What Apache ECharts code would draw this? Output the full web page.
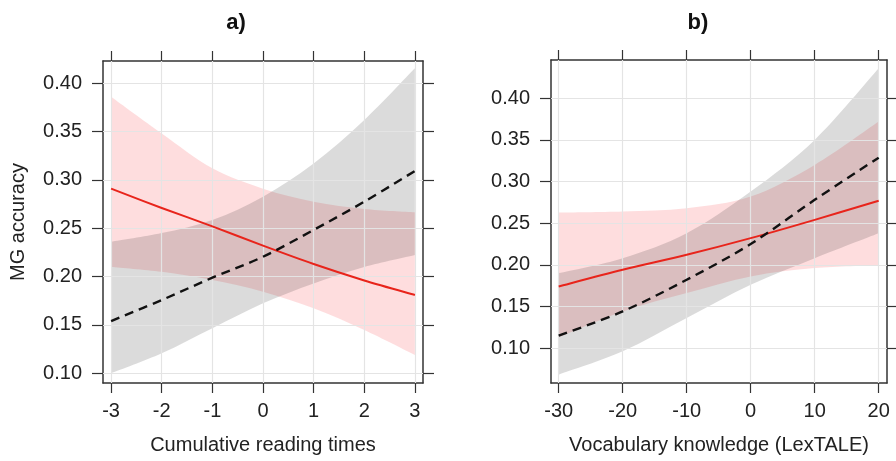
<!DOCTYPE html>
<html><head><meta charset="utf-8">
<script src="https://cdn.jsdelivr.net/npm/echarts@6/dist/echarts.min.js"></script>
<style>html,body{margin:0;padding:0;background:#fff}#c{width:896px;height:461px}</style>
</head><body><div id="c"></div>
<script>
// Panel a) Cumulative reading times
const xA = [-3, -2, -1, 0, 1, 2, 3];
const redA = [0.291, 0.271, 0.252, 0.232, 0.213, 0.196, 0.181];
const redUpA = [0.386, 0.348, 0.312, 0.291, 0.2775, 0.270, 0.2666];
const redLoA = [0.210, 0.205, 0.1965, 0.1844, 0.1673, 0.1448, 0.119];
const blackA = [0.154, 0.1758, 0.1989, 0.2206, 0.2483, 0.2775, 0.3093];
const blackUpA = [0.236, 0.245, 0.2586, 0.2827, 0.317, 0.362, 0.4155];
const blackLoA = [0.100, 0.1207, 0.1466, 0.1724, 0.193, 0.210, 0.2224];
const xTicksA = [-3, -2, -1, 0, 1, 2, 3];
// Panel b) Vocabulary knowledge (LexTALE)
const xB = [-30, -20, -10, 0, 10, 20];
const redB = [0.174, 0.194, 0.212, 0.232, 0.254, 0.277];
const redUpB = [0.2627, 0.264, 0.268, 0.282, 0.320, 0.372];
const redLoB = [0.113, 0.144, 0.166, 0.186, 0.196, 0.199];
const blackB = [0.1148, 0.144, 0.182, 0.225, 0.278, 0.3287];
const blackUpB = [0.190, 0.208, 0.238, 0.288, 0.350, 0.436];
const blackLoB = [0.068, 0.096, 0.136, 0.176, 0.208, 0.238];
const xTicksB = [-30, -20, -10, 0, 10, 20];
const yTicks = [0.10, 0.15, 0.20, 0.25, 0.30, 0.35, 0.40];
const titles = ['a)', 'b)'];
const xNames = ['Cumulative reading times', 'Vocabulary knowledge (LexTALE)'];
const yName = 'MG accuracy';

const FONT = 'Liberation Sans, Arial, sans-serif';
const FS = 20;

const PINK = 'rgba(250,100,105,0.22)';
const GREY = 'rgba(30,30,30,0.16)';
const AXC = '#333';

function xAxes(gi, min, max, ticks, name) {
  const base = {
    type: 'value', gridIndex: gi, min: min, max: max,
    axisLine: { show: true, onZero: false, lineStyle: { color: AXC, width: 1.5 } },
    axisTick: { show: true, inside: false, length: 10, customValues: ticks, lineStyle: { color: AXC, width: 1.2 } },
    splitLine: { show: false }
  };
  return [
    Object.assign({}, base, {
      position: 'bottom',
      axisLabel: { show: true, customValues: ticks, margin: 18, fontSize: FS, color: '#222', fontFamily: FONT },
      name: name, nameLocation: 'middle', nameGap: 52,
      nameTextStyle: { fontSize: FS, color: '#222', fontFamily: FONT }
    }),
    Object.assign({}, base, { position: 'top', axisLabel: { show: false } })
  ];
}
function yAxes(gi, min, max, showName) {
  const base = {
    type: 'value', gridIndex: gi, min: min, max: max,
    axisLine: { show: true, onZero: false, lineStyle: { color: AXC, width: 1.5 } },
    axisTick: { show: true, inside: false, length: 11, customValues: yTicks, lineStyle: { color: AXC, width: 1.2 } },
    splitLine: { show: false }
  };
  const left = Object.assign({}, base, {
    position: 'left',
    axisLabel: { show: true, customValues: yTicks, margin: 21, fontSize: FS, color: '#222', fontFamily: FONT,
      formatter: v => v.toFixed(2) }
  });
  if (showName) {
    left.name = yName; left.nameLocation = 'middle'; left.nameGap = 75;
    left.nameTextStyle = { fontSize: FS, color: '#222', fontFamily: FONT };
  }
  return [left, Object.assign({}, base, { position: 'right', axisLabel: { show: false } })];
}

function gridLines(xi, yi, xt, yt, xmin, xmax, ymin, ymax) {
  const data = [];
  xt.forEach(v => data.push([{ coord: [v, ymin] }, { coord: [v, ymax] }]));
  yt.forEach(v => data.push([{ coord: [xmin, v] }, { coord: [xmax, v] }]));
  return {
    type: 'line', xAxisIndex: xi, yAxisIndex: yi, data: [], silent: true, z: 1,
    markLine: { silent: true, symbol: ['none', 'none'], label: { show: false },
      lineStyle: { color: '#e4e4e4', type: 'solid', width: 1.2 }, data: data }
  };
}

// Catmull-Rom spline through screen points -> SVG path segments
function splinePath(pts, moveFirst) {
  let d = (moveFirst ? 'M' : 'L') + pts[0][0] + ' ' + pts[0][1];
  for (let i = 0; i < pts.length - 1; i++) {
    const p0 = pts[Math.max(0, i - 1)], p1 = pts[i], p2 = pts[i + 1], p3 = pts[Math.min(pts.length - 1, i + 2)];
    const c1 = [p1[0] + (p2[0] - p0[0]) / 6, p1[1] + (p2[1] - p0[1]) / 6];
    const c2 = [p2[0] - (p3[0] - p1[0]) / 6, p2[1] - (p3[1] - p1[1]) / 6];
    d += 'C' + c1[0] + ' ' + c1[1] + ' ' + c2[0] + ' ' + c2[1] + ' ' + p2[0] + ' ' + p2[1];
  }
  return d;
}

function bandSeries(xi, yi, xs, up, lo, color) {
  return {
    type: 'custom', xAxisIndex: xi, yAxisIndex: yi, z: 2, silent: true, clip: true,
    data: [[xs[0], up[0]]],
    renderItem: function (params, api) {
      const top = xs.map((x, i) => api.coord([x, up[i]]));
      const bot = xs.map((x, i) => api.coord([x, lo[i]])).reverse();
      const d = splinePath(top, true) + splinePath(bot, false) + 'Z';
      return { type: 'path', shape: { pathData: d }, style: { fill: color, stroke: null } };
    }
  };
}
function lineSeries(xi, yi, xs, ys, color, dashed) {
  return {
    type: 'custom', xAxisIndex: xi, yAxisIndex: yi, z: 5, silent: true, clip: true,
    data: [[xs[0], ys[0]]],
    renderItem: function (params, api) {
      const pts = xs.map((x, i) => api.coord([x, ys[i]]));
      return { type: 'path', shape: { pathData: splinePath(pts, true) },
        style: { fill: null, stroke: color, lineWidth: dashed ? 2.4 : 2, lineDash: dashed ? [9, 6] : null } };
    }
  };
}

const aX = [-3.16, 3.16], aY = [0.090, 0.423];
const bX = [-31.2, 21.3], bY = [0.058, 0.446];

const option = {
  animation: false,
  backgroundColor: '#fff',
  title: [
    { text: titles[0], left: 231, top: 7, textAlign: 'center', textStyle: { fontSize: 22, fontWeight: 'bold', color: '#111', fontFamily: FONT } },
    { text: titles[1], left: 693, top: 7, textAlign: 'center', textStyle: { fontSize: 22, fontWeight: 'bold', color: '#111', fontFamily: FONT } }
  ],
  grid: [
    { left: 103, top: 61, width: 320, height: 322 },
    { left: 551, top: 60, width: 336, height: 323 }
  ],
  xAxis: [].concat(xAxes(0, aX[0], aX[1], xTicksA, xNames[0]), xAxes(1, bX[0], bX[1], xTicksB, xNames[1])),
  yAxis: [].concat(yAxes(0, aY[0], aY[1], true), yAxes(1, bY[0], bY[1], false)),
  series: [].concat(
    gridLines(0, 0, xTicksA, yTicks, aX[0], aX[1], aY[0], aY[1]),
    bandSeries(0, 0, xA, redUpA, redLoA, PINK),
    bandSeries(0, 0, xA, blackUpA, blackLoA, GREY),
    lineSeries(0, 0, xA, redA, '#e8241b', false),
    lineSeries(0, 0, xA, blackA, '#111', true),
    gridLines(2, 2, xTicksB, yTicks, bX[0], bX[1], bY[0], bY[1]),
    bandSeries(2, 2, xB, redUpB, redLoB, PINK),
    bandSeries(2, 2, xB, blackUpB, blackLoB, GREY),
    lineSeries(2, 2, xB, redB, '#e8241b', false),
    lineSeries(2, 2, xB, blackB, '#111', true)
  )
};
const chart = echarts.init(document.getElementById('c'), null, { renderer: 'canvas' });
chart.setOption(option);
</script>
</body></html>
